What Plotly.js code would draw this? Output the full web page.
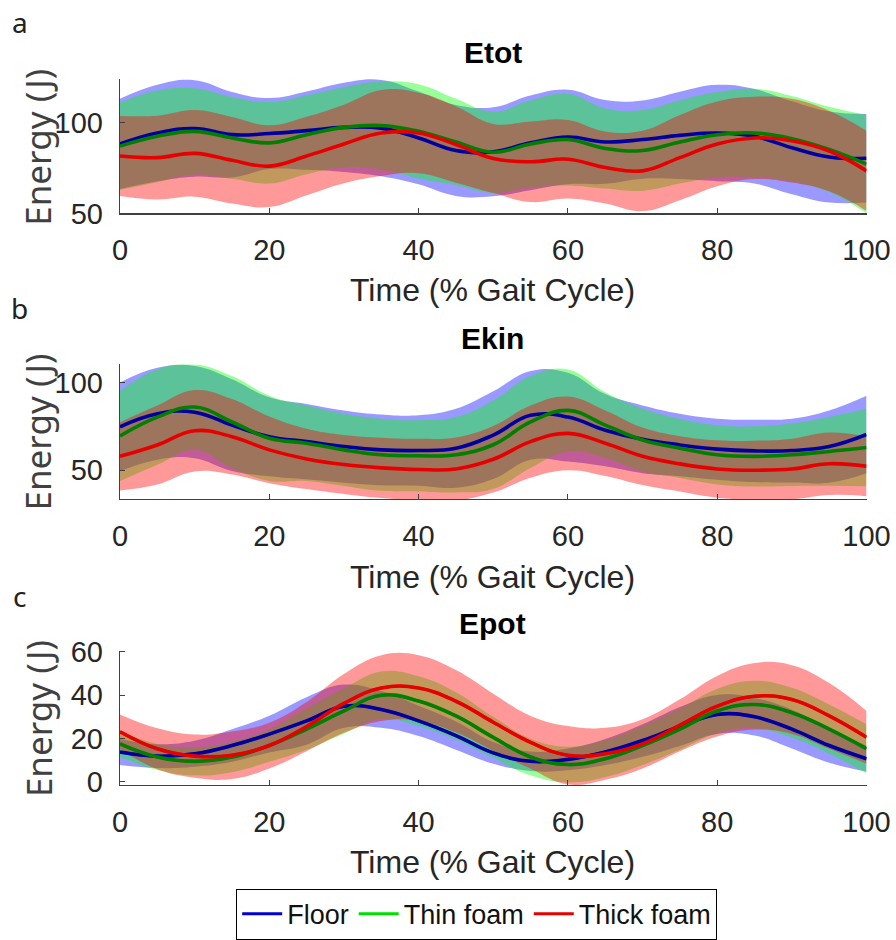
<!DOCTYPE html>
<html><head><meta charset="utf-8">
<script src="https://cdn.plot.ly/plotly-3.0.1.min.js"></script>
<style>html,body{margin:0;padding:0;background:#fff}#chart{width:896px;height:940px}</style>
</head><body><div id="chart"></div>
<script>
// ---------------- data ----------------
const gaitPct = [0,5,10,15,20,25,30,35,40,45,50,55,60,65,70,75,80,85,90,95,100];
const seriesNames = ['Floor','Thin foam','Thick foam'];
const panelTitles = ['Etot','Ekin','Epot'];
const panelLetters = ['a','b','c'];
const xTitle = 'Time (% Gait Cycle)';
const yTitle = 'Energy (J)';
const xTickVals = [0,20,40,60,80,100];
const etotTickVals = [50,100];
const ekinTickVals = [50,100];
const epotTickVals = [0,20,40,60];

// Etot: mean and SD per condition
const etotFloorMean = [88.2,94.2,96.7,93.3,93.9,95.5,97.3,96.9,91.5,84.6,83.9,88.8,92.0,89.3,90.6,92.9,94.2,92.4,86.1,81.0,80.3];
const etotFloorSD   = [24.8,26.5,26.5,23.5,19.5,21.5,24.5,26.5,25.5,25.0,24.5,26.0,26.0,23.0,21.5,24.0,26.5,26.0,25.5,25.0,24.3];
const etotThinMean  = [87.0,92.4,95.1,91.5,88.8,93.3,97.3,98.3,95.1,89.3,83.6,88.2,90.6,85.7,84.6,89.3,93.3,94.2,91.1,85.2,77.1];
const etotThinSD    = [24.0,25.2,23.7,22.5,22.4,21.7,22.1,24.2,25.9,23.7,22.3,24.0,25.2,22.0,22.2,22.9,23.4,24.3,23.5,23.4,27.0];
const etotThickMean = [81.6,80.7,83.0,79.2,76.0,81.6,88.2,94.2,94.2,87.9,80.2,78.4,79.8,75.3,73.4,80.7,88.2,91.5,90.0,84.3,73.4];
const etotThickSD   = [22.0,23.0,23.8,23.8,22.5,21.6,21.6,23.6,22.1,21.0,19.0,22.1,21.6,19.8,22.1,23.4,23.3,22.6,23.0,22.1,22.0];

// Ekin
const ekinFloorMean = [74.7,82.2,83.1,75.7,69.1,66.3,63.5,61.6,61.2,62.5,70.0,81.3,80.3,72.8,67.6,64.4,62.0,61.0,61.2,63.5,70.4];
const ekinFloorSD   = [25.3,26.2,26.3,26.2,22.5,21.5,20.6,20.2,20.1,22.5,25.0,25.3,25.3,20.6,19.3,17.8,17.4,17.8,18.2,20.6,22.1];
const ekinThinMean  = [69.5,80.3,86.0,77.5,68.2,65.4,61.6,58.8,58.2,58.8,64.5,77.5,84.1,75.7,67.2,62.5,58.8,57.9,58.8,60.7,62.9];
const ekinThinSD    = [25.8,27.2,24.3,26.2,24.3,21.5,20.6,20.6,20.3,21.5,25.2,26.2,23.4,18.7,17.8,16.9,16.9,17.2,17.8,19.6,22.1];
const ekinThickMean = [57.9,64.4,72.5,69.1,61.6,56.4,53.2,51.3,50.4,50.7,56.2,66.3,71.0,65.4,57.9,53.6,50.7,50.0,50.7,53.7,52.2];
const ekinThickSD   = [19.5,22.5,23.2,21.5,19.0,17.2,16.8,17.2,17.5,18.0,19.0,20.6,21.0,18.7,16.4,15.8,16.4,16.8,17.3,17.8,17.0];

// Epot
const epotFloorMean = [13.7,11.8,12.9,16.7,22.0,28.1,34.9,33.4,28.1,21.3,13.3,9.4,10.3,13.7,19.0,25.5,31.1,30.0,24.3,16.7,10.6];
const epotFloorSD   = [6.0,5.5,6.0,7.5,8.5,11.0,10.0,8.5,7.0,6.5,5.0,4.5,5.0,6.0,7.5,9.0,9.0,8.7,9.0,8.0,6.0];
const epotThinMean  = [17.5,11.4,9.4,11.4,16.7,24.3,32.7,40.0,37.3,30.4,20.5,11.4,7.9,10.6,16.7,24.3,32.7,35.7,31.9,24.3,15.2];
const epotThinSD    = [6.0,6.0,6.5,7.0,7.5,9.5,10.5,11.0,11.5,11.0,9.5,8.5,8.3,8.5,9.0,9.5,10.3,11.0,11.5,11.4,11.3];
const epotThickMean = [23.1,15.2,11.8,12.2,16.7,25.5,36.2,43.3,43.3,37.2,27.5,18.2,12.2,12.9,17.5,26.1,34.9,39.5,38.0,30.4,20.5];
const epotThickSD   = [8.0,9.5,10.0,11.0,10.6,11.4,13.6,15.2,15.2,14.4,13.2,12.2,13.5,12.0,11.4,12.0,14.0,15.4,15.9,15.2,12.2];

// ---------------- styling ----------------
const fillColors   = ['rgba(0,0,255,0.4)','rgba(0,255,0,0.4)','rgba(255,0,0,0.4)'];
const lineColors   = ['#0000a0','#007f00','#e60000'];
const legendColors = ['#0000d8','#00e000','#e60000'];
const axisColor = '#404040';
const numFont = 'Liberation Sans, Arial, sans-serif';
const labFont = 'Noto Sans, Open Sans, sans-serif';

const panels = [
  {means:[etotFloorMean,etotThinMean,etotThickMean], sds:[etotFloorSD,etotThinSD,etotThickSD], range:[50,124], ticks:etotTickVals, dom:[0.7695,0.9149]},
  {means:[ekinFloorMean,ekinThinMean,ekinThickMean], sds:[ekinFloorSD,ekinThinSD,ekinThickSD], range:[33.5,110.3], ticks:ekinTickVals, dom:[0.4610,0.6064]},
  {means:[epotFloorMean,epotThinMean,epotThickMean], sds:[epotFloorSD,epotThinSD,epotThickSD], range:[-1.5,60.5], ticks:epotTickVals, dom:[0.1524,0.2971]}
];

const traces = [];
const layout = {
  width:896, height:940, autosize:false,
  margin:{l:0,r:0,t:0,b:0},
  paper_bgcolor:'#ffffff', plot_bgcolor:'rgba(0,0,0,0)',
  showlegend:true,
  legend:{orientation:'h', traceorder:'normal', x:0.532, xanchor:'center', y:0.0404, yanchor:'top',
          bordercolor:'#000', borderwidth:1, bgcolor:'#fff',
          font:{family:numFont, size:27, color:'#111'}, tracegroupgap:0, itemwidth:40},
  annotations:[]
};

panels.forEach((p, k) => {
  const sfx = k === 0 ? '' : String(k+1);
  const xa = 'x'+sfx, ya = 'y'+sfx;
  // legend entries: bright lines hidden beneath the plotted mean lines (panel c)
  if (k === 2) {
    p.means.forEach((m, s) => {
      traces.push({x:gaitPct, y:m, xaxis:xa, yaxis:ya, mode:'lines', name:seriesNames[s],
        line:{color:legendColors[s], width:3, shape:'spline', smoothing:1.2}, hoverinfo:'skip', showlegend:true});
    });
  }
  // mean ± SD bands
  p.means.forEach((m, s) => {
    const sd = p.sds[s];
    const lower = m.map((v,i) => v - sd[i]);
    const upper = m.map((v,i) => v + sd[i]);
    traces.push({x:gaitPct, y:lower, xaxis:xa, yaxis:ya, mode:'lines',
      line:{width:0, shape:'spline', smoothing:1.2}, showlegend:false, hoverinfo:'skip'});
    traces.push({x:gaitPct, y:upper, xaxis:xa, yaxis:ya, mode:'lines', fill:'tonexty',
      fillcolor:fillColors[s], line:{width:0, shape:'spline', smoothing:1.2}, showlegend:false, hoverinfo:'skip'});
  });
  // mean lines
  p.means.forEach((m, s) => {
    traces.push({x:gaitPct, y:m, xaxis:xa, yaxis:ya, mode:'lines', name:seriesNames[s],
      line:{color:lineColors[s], width:3.6, shape:'spline', smoothing:1.2}, showlegend:false, hoverinfo:'skip'});
  });

  layout['xaxis'+sfx] = {
    domain:[0.1339,0.9671], range:[0,100], anchor:ya, tickvals:xTickVals,
    ticks:'inside', ticklen:5, tickwidth:1, tickcolor:axisColor,
    showline:true, linecolor:axisColor, linewidth:1.2, showgrid:false, zeroline:false,
    tickfont:{family:numFont, size:29, color:'#262626'}, ticklabelstandoff:11
  };
  layout['yaxis'+sfx] = {
    domain:p.dom, range:p.range, anchor:xa, tickvals:p.ticks,
    ticks:'inside', ticklen:5, tickwidth:1, tickcolor:axisColor,
    showline:true, linecolor:axisColor, linewidth:1.2, showgrid:false, zeroline:false,
    tickfont:{family:numFont, size:29, color:'#262626'}, ticklabelstandoff:10
  };
});

const titleY  = [0.9436, 0.634, 0.3266];
const xTitleY = [0.6872, 0.3771, 0.0691];
const yTitleY = [0.8415, 0.534, 0.2245];
const letterY = [0.9766, 0.667, 0.3564];
for (let k = 0; k < 3; k++) {
  layout.annotations.push({text:panelTitles[k], xref:'paper', yref:'paper', x:0.5502, y:titleY[k],
    xanchor:'center', yanchor:'middle', showarrow:false, font:{family:numFont, size:30, weight:700, color:'#000'}});
  layout.annotations.push({text:xTitle, xref:'paper', yref:'paper', x:0.5502, y:xTitleY[k],
    xanchor:'center', yanchor:'middle', showarrow:false, font:{family:numFont, size:32, color:'#262626'}});
  layout.annotations.push({text:yTitle, xref:'paper', yref:'paper', x:0.0424, y:yTitleY[k], textangle:-90,
    xanchor:'center', yanchor:'middle', showarrow:false, font:{family:labFont, size:35, color:'#404040'}});
  layout.annotations.push({text:panelLetters[k], xref:'paper', yref:'paper', x:0.0223, y:letterY[k],
    xanchor:'center', yanchor:'middle', showarrow:false, font:{family:labFont, size:28, color:'#222'}});
}

Plotly.newPlot('chart', traces, layout, {staticPlot:true, displayModeBar:false});
</script>
</body></html>
